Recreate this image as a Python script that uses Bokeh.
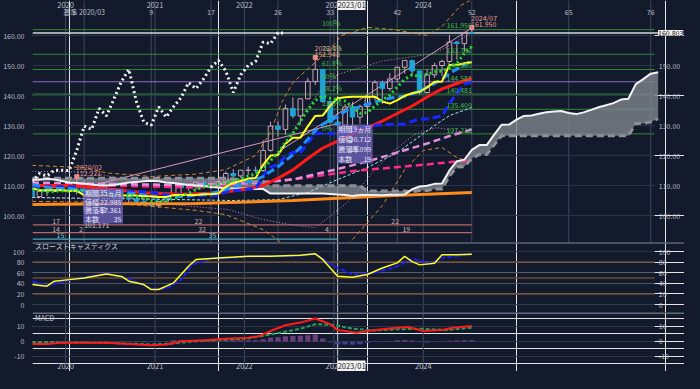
import numpy as np
from bokeh.plotting import figure
from bokeh.models import (Range1d, LinearAxis, FixedTicker, Span, Label,
                          BoxAnnotation, GlobalInlineStyleSheet)
from bokeh.layouts import column
from bokeh.core.properties import value
from bokeh.embed import file_html
from bokeh.resources import INLINE

# ---------------- data (month index: 0 = 2020/01; bars 2019/08 .. 2024/07) ----------------
months = list(range(-5, 55))
opens = [108.8, 106.3, 108.1, 108.0, 109.5, 108.7, 108.4, 107.9, 107.5, 107.2,
         107.8, 107.9, 105.9, 105.9, 105.5, 104.7, 104.3, 103.3, 104.7, 106.6,
         110.7, 109.3, 109.6, 111.1, 109.7, 110.0, 111.3, 114.0, 113.2, 115.1,
         115.1, 115.0, 121.7, 129.8, 128.7, 135.7, 133.2, 138.9, 144.7, 148.7,
         138.0, 131.1, 130.1, 136.2, 132.8, 136.3, 139.3, 144.3, 142.3, 145.5,
         149.4, 151.7, 148.2, 141.0, 146.9, 150.0, 151.35, 157.8, 157.3, 160.9]
highs = [109.3, 108.5, 109.3, 109.7, 109.7, 110.3, 112.22, 111.7, 109.4, 108.1,
         109.85, 108.2, 107.05, 106.55, 106.1, 105.7, 104.75, 104.9, 106.7, 110.97,
         110.96, 110.2, 111.1, 111.66, 110.8, 112.1, 114.7, 115.5, 115.2, 116.35,
         116.3, 125.1, 131.25, 131.35, 137.0, 139.4, 139.1, 145.9, 151.95, 148.8,
         138.2, 131.6, 137.1, 137.9, 137.0, 140.9, 145.1, 145.0, 147.4, 149.7,
         151.7, 151.9, 148.3, 148.8, 150.9, 151.97, 160.2, 157.99, 161.27, 161.95]
lows = [104.4, 105.9, 106.5, 107.9, 108.4, 107.65, 107.0, 101.17, 106.4, 105.99,
        106.1, 104.2, 104.2, 104.0, 104.0, 103.2, 102.9, 102.6, 104.4, 106.4,
        107.5, 108.3, 108.6, 109.1, 108.7, 109.1, 110.8, 112.5, 112.5, 113.5,
        114.4, 114.6, 121.3, 126.3, 126.9, 132.5, 130.4, 138.8, 143.5, 137.5,
        130.6, 127.21, 128.1, 129.6, 130.6, 133.5, 138.4, 137.2, 141.5, 144.4,
        147.3, 146.7, 140.25, 140.8, 145.9, 146.5, 150.8, 151.86, 154.55, 160.8]
closes = [106.3, 108.1, 108.0, 109.5, 108.7, 108.4, 107.9, 107.5, 107.2, 107.8,
          107.9, 105.9, 105.9, 105.5, 104.7, 104.3, 103.3, 104.7, 106.6, 110.7,
          109.3, 109.6, 111.1, 109.7, 110.0, 111.3, 114.0, 113.2, 115.1, 115.1,
          115.0, 121.7, 129.8, 128.7, 135.7, 133.2, 138.9, 144.7, 148.7, 138.0,
          131.1, 130.1, 136.2, 132.8, 136.3, 139.3, 144.3, 142.3, 145.5, 149.4,
          151.7, 148.2, 141.0, 146.9, 150.0, 151.35, 157.8, 157.3, 160.9, 160.8]

tenkan = [109.1, 108.4, 108.4, 108.4, 108.4, 108.2, 108.3, 106.7, 106.7, 106.7,
          106.7, 106.7, 106.7, 106.7, 106.7, 106.45, 106.4, 106.2, 106.2, 106.8,
          106.8, 106.8, 106.85, 107.1, 107.1, 107.35, 109.55, 110.95, 111.5, 112.3,
          112.5, 116.9, 120.0, 120.2, 123.9, 125.95, 125.95, 129.7, 133.2, 133.3,
          136.6, 139.1, 139.4, 139.6, 139.6, 139.6, 139.6, 138.0, 137.3, 138.45,
          139.9, 140.75, 141.25, 142.7, 144.55, 144.6, 150.2, 150.2, 150.76, 151.1]
kijun = [109.55, 109.55, 109.55, 109.55, 109.55, 109.5, 109.5, 107.9, 107.9, 107.9,
         107.9, 107.9, 107.9, 107.9, 107.9, 107.9, 107.6, 107.5, 106.8, 106.8,
         106.8, 106.8, 106.7, 106.7, 106.7, 106.7, 107.95, 108.35, 108.35, 108.8,
         108.8, 113.15, 116.2, 116.95, 119.8, 121.0, 121.0, 124.25, 127.3, 127.3,
         127.3, 127.3, 127.3, 128.2, 129.2, 129.7, 130.1, 130.3, 130.3, 130.3,
         130.5, 131.4, 132.2, 132.2, 132.7, 133.2, 137.4, 140.75, 143.8, 144.4]
ma6 = [108.93, 108.47, 107.9, 108.1, 108.23, 108.17, 108.43, 108.33, 108.2, 107.92,
       107.78, 107.37, 107.03, 106.7, 106.28, 105.7, 104.93, 104.73, 104.85, 105.72,
       106.48, 107.37, 108.67, 109.5, 110.07, 110.17, 110.95, 111.55, 112.22, 113.12,
       113.95, 115.68, 118.32, 120.9, 124.33, 127.35, 131.33, 135.17, 138.32, 139.87,
       139.1, 138.58, 138.13, 136.15, 134.08, 134.3, 136.5, 138.53, 140.08, 142.85,
       145.42, 146.9, 146.35, 147.12, 147.87, 148.19, 149.21, 150.73, 154.04, 156.36]
ma12 = [110.31, 109.84, 109.43, 109.1, 109.02, 108.98, 108.68, 108.4, 108.05, 108.01,
        108.01, 107.77, 107.73, 107.52, 107.24, 106.81, 106.36, 106.05, 105.94, 106.21,
        106.38, 106.53, 106.8, 107.12, 107.46, 107.94, 108.72, 109.46, 110.44, 111.31,
        112.01, 112.93, 114.63, 116.23, 118.28, 120.23, 122.64, 125.43, 128.32, 130.38,
        131.72, 132.97, 134.73, 135.66, 136.2, 137.08, 137.8, 138.56, 139.11, 139.5,
        139.75, 140.6, 141.43, 142.83, 143.98, 145.52, 147.31, 148.81, 150.2, 151.74]

# ichimoku cloud, months -5 .. 79
cloud_months = list(range(-5, 80))
senkou_a = [111.9, 111.9, 112.2, 112.0, 111.5, 111.0, 110.8, 110.6, 110.3, 110.0,
            110.0, 110.2, 110.6, 111.0, 111.2, 111.4, 111.6, 111.4, 111.0, 110.8,
            110.5, 110.2, 110.0, 109.8, 109.5,
            109.33, 108.98, 108.98, 108.98, 108.98, 108.85, 108.9, 107.3, 107.3, 107.3,
            107.3, 107.3, 107.3, 107.3, 107.3, 107.18, 107.0, 106.85, 106.5, 106.8,
            106.8, 106.8, 106.78, 106.9, 106.9, 107.03, 108.75, 109.65, 109.93, 110.55,
            110.65, 115.03, 118.1, 118.58, 121.85,
            123.48, 123.48, 126.98, 130.25, 130.3, 131.95, 133.2, 133.35, 133.9, 134.4,
            134.65, 134.85, 134.15, 133.8, 134.38, 135.2, 136.08, 136.73, 137.45, 138.63,
            138.9, 143.8, 145.48, 147.28, 147.75]
senkou_b = [112.4, 112.4, 112.4, 112.4, 112.4, 112.4, 112.4, 112.4, 112.4, 112.4,
            112.4, 112.4, 112.4, 112.4, 112.4, 112.4, 112.4, 112.4, 112.4, 112.4,
            112.4, 112.4, 112.4, 112.4, 112.4, 112.4, 112.4, 112.1, 112.1, 111.4,
            111.4, 111.4, 109.9, 109.9, 109.9, 109.9, 109.9, 109.9, 109.9, 109.9,
            109.9, 109.9, 109.9, 109.9, 109.9, 108.2, 108.2, 108.2, 108.2, 108.2,
            108.2, 107.95, 108.35, 108.35, 108.8, 108.8, 113.15, 116.2, 116.3, 119.1,
            120.3, 120.3, 123.55, 126.6, 126.6, 126.6, 126.6, 126.6, 126.6, 126.6,
            126.6, 126.6, 126.6, 126.6, 126.6, 126.6, 126.6, 126.6, 126.6, 126.6,
            126.6, 130.7, 130.7, 131.2, 132.3]

# other averages / bands (read at sample months)
red_m = [-5, 0, 5, 10, 15, 20, 24, 26, 28, 30, 32, 34, 36, 38, 40, 42, 44, 46, 48, 50, 52, 54]
red_v = [110.0, 110.0, 108.9, 107.6, 107.1, 107.5, 108.9, 110.0, 112.4, 115.2, 119.0,
         122.5, 124.8, 127.2, 129.3, 131.5, 134.0, 136.5, 139.5, 142.2, 144.0, 145.8]
lav_m = [-5, 5, 15, 25, 30, 36, 40, 44, 48, 51, 54]
lav_v = [111.0, 110.5, 110.2, 110.8, 112.0, 115.5, 118.0, 121.0, 124.0, 126.5, 128.7]
mag_m = [-5, 5, 17, 30, 38, 47, 54]
mag_v = [110.3, 110.0, 109.3, 112.0, 114.8, 116.8, 118.5]
org_m = [-5, 5, 17, 30, 42, 54]
org_v = [103.7, 103.9, 104.0, 105.0, 106.5, 107.7]
cyan_m = [-5, 10, 22, 28, 32, 36, 40, 44, 49, 51, 54]
cyan_v = [106.0, 105.5, 105.0, 105.3, 107.7, 112.0, 116.0, 121.0, 130.0, 133.3, 136.0]
bbu3_m = [-5, 2, 5, 11, 17, 21, 25, 27, 28.5, 30, 32.5, 35, 36.5, 40, 43.5, 48, 50, 52.5, 54]
bbu3_v = [116.7, 116.0, 114.2, 113.0, 113.8, 115.3, 120.0, 127.7, 137.7, 144.3, 150.0,
          155.3, 160.0, 162.7, 162.0, 160.0, 163.0, 170.0, 172.0]
bbl3_m = [-5, 3, 10, 17, 21, 26, 27.5, 31, 34, 36, 38, 42, 45, 47.5, 50, 52, 53.3, 54]
bbl3_v = [104.7, 104.5, 103.3, 101.7, 100.3, 95.3, 92.7, 86.0, 84.0, 87.0, 92.0, 103.3,
          115.3, 121.7, 122.7, 119.3, 118.3, 118.0]
bbu2_m = [-5, 2, 8, 14, 20, 24, 26, 28, 30, 32, 34, 36, 42, 49, 53, 54]
bbu2_v = [114.7, 114.5, 112.0, 111.5, 111.3, 112.0, 116.0, 121.0, 128.0, 136.0, 143.0,
          147.0, 151.5, 154.0, 159.5, 161.0]
bbl2_m = [-5, 3.6, 12, 21.3, 25.9, 30.3, 33, 37.3, 41, 43.6, 46.3, 49.3, 53.3, 54]
bbl2_v = [106.0, 105.5, 104.0, 102.0, 98.7, 96.7, 96.0, 104.3, 115.3, 121.7, 127.0,
          129.3, 127.7, 127.5]
trend1_m = [2, 36.5]
trend1_v = [109.3, 131.0]
trend2_m = [28.5, 54]
trend2_v = [122.0, 162.5]

# fibonacci retracement 2023/01 low -> 2024/07 high
fib_levels = [161.950, 153.752, 148.680, 144.581, 140.481, 135.409, 127.211]
fib_pct = ["100%", "76.4%", "61.8%", "50%", "38.2%", "23.6%", "0%"]
fib_vals = ["161.950", "153.752", "148.680", "144.581", "140.481", "135.409", "127.211"]
last_price = 160.803

# marked highs (bar index into arrays)
peak_idx = [6, 38, 59]
peak_date = ["2020/02", "2022/10", "2024/07"]
peak_text = ["112.221", "151.948", "161.950"]

# time axis labels
year_pos = [-0.5, 11.5, 23.5, 35.5, 47.5]
year_lab = ["2020", "2021", "2022", "2023", "2024"]
count_pos = [2, 11, 19, 28, 35, 44, 54, 67, 78]
count_lab = ["基準 2020/03", "9", "17", "26", "33", "42", "52", "65", "76"]
cursor_m = 36
cursor_lab = "2023/01"

# lower count rows
row_levels = [96.9, 94.3, 92.1]
row_ends = [54, 54, 36]
row_colors = ["#b8676a", "#b8676a", "#4aa9bf"]
cnt_m = [-2.3, 16.8, 43.2, -2.3, 1.3, 17.3, 34.3, 44.7, -1.7, 18.7]
cnt_row = [0, 0, 0, 1, 1, 1, 1, 1, 2, 2]
cnt_txt = ["17", "22", "22", "14", "2", "32", "4", "19", "15", "35"]

# slow stochastics
sk_m = [-5, -3, -2, 0, 2, 5, 7, 8, 10, 11, 12, 14, 16, 17, 20, 24, 27, 31, 33, 34,
        36, 38, 40, 42, 44, 45, 46, 47, 49, 50, 52, 54]
sk_v = [37.6, 34.6, 44.0, 47.0, 50.0, 57.5, 53.0, 44.0, 37.7, 28.3, 28.3, 40.9, 72.3,
        84.9, 88.0, 91.0, 91.0, 93.0, 95.6, 85.0, 53.5, 51.6, 56.6, 69.0, 78.6, 91.0,
        81.0, 74.8, 78.0, 93.7, 93.7, 95.0]
sd_m = [-5, -3, 0, 5, 8, 11, 13, 15, 16.5, 19, 24, 31, 33, 35.5, 38, 41, 44, 46, 48.5, 50, 54]
sd_v = [44.3, 36.0, 46.0, 58.8, 48.8, 29.6, 29.6, 47.0, 75.5, 86.0, 89.9, 92.5, 95.6,
        72.3, 56.6, 59.7, 72.3, 86.0, 78.6, 88.0, 95.0]

# MACD
macd_m = [-5, -3, -1, 5, 8, 11, 13, 15, 18, 21, 24, 25.5, 27, 29, 31, 33, 35, 36,
          38.5, 41, 44, 45.5, 47.5, 50, 51.5, 54]
macd_v = [-1.6, -1.6, -0.9, -0.9, -1.6, -2.5, -2.0, 0.2, 0.9, 1.8, 2.5, 3.6, 7.0, 10.8,
          12.6, 15.3, 11.5, 7.6, 5.8, 7.6, 9.2, 9.7, 7.0, 7.6, 9.2, 10.3]
sig_m = [-5, 5, 11, 14, 17, 24, 27, 31, 33, 35.5, 38, 41, 44, 47.5, 50.5, 54]
sig_v = [-0.4, -0.9, -2.0, -1.3, 0.2, 2.0, 4.7, 8.5, 11.5, 11.0, 8.5, 7.4, 8.1, 8.5, 7.6, 9.2]
hist_v = [-0.4, -0.5, -0.4, -0.3, -0.2, 0.0, 0.1, 0.1, 0.0, 0.0,
          -0.1, -0.2, -0.3, -0.4, -0.5, -0.5, -0.4, -0.3, 0.3, 0.8,
          1.0, 1.0, 1.0, 0.8, 0.6, 0.5, 0.7, 0.8, 0.9, 0.9,
          0.8, 1.5, 2.5, 2.8, 3.5, 3.6, 3.8, 4.2, 4.6, 2.0,
          -0.5, -1.8, -2.0, -2.2, -1.8, -1.0, -0.3, 0.2, 0.3, 0.8,
          1.0, 0.6, -0.3, -0.6, -0.4, 0.2, 0.5, 0.6, 0.8, 0.8]

# ---------------- style ----------------
BG = "#131a2b"
GRID = "#2b3346"
VL = "#3f485c"
TXT = "#b9bdc9"
FONT = "Noto Sans CJK JP"
UPC = "#c9a3b6"
DNC = "#22a3d6"
FIBC = "#2f8a36"
FIBT = "#44b84c"
X0, X1 = -4.933, 78.533          # plotted month span (price/indicator area)
X1_ALL = 82.533                   # every panel also covers the right label strip

xr = Range1d(X0, X1_ALL)
base = dict(width=684, x_range=xr, output_backend="svg", toolbar_location=None,
            x_axis_location=None, y_axis_location=None, background_fill_color=BG,
            border_fill_color=BG, outline_line_color=None, min_border_left=28,
            min_border_right=0, min_border_top=0, min_border_bottom=0)


def add_left_axis(fig, ticks, labels):
    ax = LinearAxis(ticker=FixedTicker(ticks=ticks), axis_line_color=None,
                    major_tick_line_color=None, minor_tick_line_color=None,
                    major_label_text_color=TXT, major_label_text_font_size="7px",
                    major_label_text_font=FONT, major_label_standoff=2,
                    major_label_overrides={t: s for t, s in zip(ticks, labels)})
    fig.add_layout(ax, "left")


def right_labels(fig, ticks, labels):
    fig.text(x=X1 + 0.55, y=ticks, text=labels, text_color=TXT, text_font_size="7px",
             text_font=value(FONT), text_align="left", text_baseline="middle")


def lab(fig, x, y, text, color, size="7px", align="left", base_="middle", bg=None):
    kw = dict(x=x, y=y, text=text, text_color=color, text_font_size=size,
              text_font=FONT, text_align=align, text_baseline=base_)
    if bg is not None:
        kw.update(background_fill_color=bg, background_fill_alpha=1.0)
    fig.add_layout(Label(**kw))


def vlines(fig):
    for v in year_pos:
        fig.add_layout(Span(location=v, dimension="height", line_color=VL,
                            line_width=1, level="underlay"))
    fig.add_layout(Span(location=cursor_m, dimension="height", line_color="#c9ccd4",
                        line_width=1, level="underlay"))


def hlines(fig, levels, colors, width=1.0, x_end=X1):
    fig.segment(x0=X0, y0=levels, x1=x_end, y1=levels, line_color=colors, line_width=width)


# ---------------- main price panel ----------------
p = figure(height=242, y_range=Range1d(91.0, 171.67), **base)
p.title.visible = False
price_ticks = [100, 110, 120, 130, 140, 150, 160]
price_labs = ["%.2f" % t for t in price_ticks]
add_left_axis(p, price_ticks, price_labs)

vlines(p)
for v in count_pos:
    p.add_layout(Span(location=v, dimension="height", line_color=VL, line_width=1,
                      level="underlay"))
hlines(p, price_ticks, GRID)
fib_cols = ["#8a6cc4" if pc == "50%" else FIBC for pc in fib_pct]
hlines(p, fib_levels, fib_cols)
hlines(p, [last_price], "#d5d7dc", width=1.5, x_end=X1 + 0.6)

# top time rows and right price labels
p.text(x=year_pos, y=170.3, text=year_lab, text_color=TXT, text_font_size="7.5px",
       text_font=value(FONT), text_align="center", text_baseline="middle")
p.text(x=count_pos, y=167.7, text=count_lab, text_color=TXT, text_font_size="7px",
       text_font=value(FONT), text_align="center", text_baseline="middle")
right_labels(p, price_ticks[:-1], price_labs[:-1])

m = np.array(months, dtype=float)
o = np.array(opens)
h = np.array(highs)
lo = np.array(lows)
c = np.array(closes)

# cloud
p.varea(x=cloud_months, y1=senkou_a, y2=senkou_b, fill_color="#80858d", fill_alpha=0.8)

# lower count rows
for lv, end, col in zip(row_levels, row_ends, row_colors):
    p.segment(x0=X0, y0=lv, x1=end, y1=lv, line_color=col, line_width=1.3)
cnt_y = [row_levels[r] + 0.3 for r in cnt_row]
cnt_col = ["#c9b3b3" if r < 2 else "#7fc6d6" for r in cnt_row]
p.text(x=cnt_m, y=cnt_y, text=cnt_txt, text_color=cnt_col, text_font_size="7px",
       text_font=value(FONT), text_baseline="bottom", text_align="left")

# thin bands
p.line(bbu3_m, bbu3_v, line_color="#d9862a", line_width=1, line_dash="4 3")
p.line(bbl3_m, bbl3_v, line_color="#d9862a", line_width=1, line_dash="4 3")
p.line(bbu2_m, bbu2_v, line_color="#cf86c8", line_width=1, line_dash="1 2")
p.line(bbl2_m, bbl2_v, line_color="#cf86c8", line_width=1, line_dash="1 2")
p.line(cyan_m, cyan_v, line_color="#a6e4ee", line_width=1, line_dash="3 2")
p.line(trend1_m, trend1_v, line_color="#d59ac0", line_width=1)
p.line(trend2_m, trend2_v, line_color="#d59ac0", line_width=1)

# candles
top = np.maximum(o, c)
bot = np.minimum(o, c)
up = c >= o
dn = ~up
p.segment(x0=m, y0=h, x1=m, y1=top, line_color=UPC, line_width=1)
p.segment(x0=m, y0=bot, x1=m, y1=lo, line_color=UPC, line_width=1)
p.vbar(x=m[up], width=0.62, top=top[up], bottom=bot[up], fill_color=None,
       line_color=UPC, line_width=1)
p.vbar(x=m[dn], width=0.62, top=top[dn], bottom=bot[dn], fill_color=DNC,
       line_color=DNC, line_width=1)

# long averages
p.line(org_m, org_v, line_color="#ff8c1a", line_width=3)
p.line(mag_m, mag_v, line_color="#ff2a8a", line_width=2.5, line_dash="7 4")
p.line(lav_m, lav_v, line_color="#e58ee0", line_width=2.5, line_dash="7 4")

# cloud spans
p.line(cloud_months, senkou_b, line_color="#8d9096", line_width=3, line_dash="7 4")
p.line(cloud_months, senkou_a, line_color="#f2f2f2", line_width=2)

# main averages
p.line(red_m, red_v, line_color="#ff1a1a", line_width=3)
p.line(months, kijun, line_color="#1428ff", line_width=3, line_dash="8 4")
p.line(months, ma12, line_color="#1e90ff", line_width=3, line_dash="8 4")
p.line(months, tenkan, line_color="#ffff1a", line_width=2)
p.line(months, ma6, line_color="#22dd33", line_width=3, line_dash="2 3")
p.line(m[25:] - 25, c[25:], line_color="#f4f4f4", line_width=3, line_dash="2 3")

# fib labels
for lv, pc, vs in zip(fib_levels, fib_pct, fib_vals):
    lab(p, 33.9, lv + 0.4, pc, FIBT, base_="bottom")
    lab(p, 54.0, lv + 0.4, vs, FIBT, align="right", base_="bottom")

# peaks
pk_m = [months[i] for i in peak_idx]
pk_h = [highs[i] + 0.7 for i in peak_idx]
p.scatter(x=pk_m, y=pk_h, marker="square", size=4, fill_color="#f08a8a",
          line_color="#f08a8a")
for x, y, d, t in zip(pk_m, pk_h, peak_date, peak_text):
    lab(p, x - 0.1, y + 3.2, d, "#e79a9a")
    lab(p, x - 0.1, y + 1.2, t, "#e79a9a")
lab(p, 2.0, 96.7, "101.171", "#c9c9de")

# info boxes
boxes = [dict(l=1.9, r=7.2, t=109.0, b=97.3,
              vals=["35ヵ月", "-22.985", "-17.361", "35"]),
         dict(l=35.9, r=40.7, t=130.3, b=117.3,
              vals=["19ヵ月", "-30.712", "-19.099", "19"])]
row_names = ["期間", "値幅", "騰落率", "本数"]
for bx in boxes:
    p.add_layout(BoxAnnotation(left=bx["l"], right=bx["r"], top=bx["t"], bottom=bx["b"],
                               fill_color="#6e64bc", fill_alpha=0.78, line_color=None))
    step = (bx["t"] - bx["b"]) / 4.0
    for k, (nm, vv) in enumerate(zip(row_names, bx["vals"])):
        yy = bx["t"] - step * (k + 0.5)
        lab(p, bx["l"] + 0.2, yy, nm, "#e6e6fa")
        lab(p, bx["r"] - 0.2, yy, vv, "#e6e6fa", align="right")

# current price tag and cursor date
lab(p, X1 + 0.45, last_price, "160.803", "#1a1a1a", bg="#ececec")
lab(p, cursor_m, 170.3, cursor_lab, "#1a1a1a", size="7.5px", bg="#f2f2f2")

# ---------------- slow stochastics ----------------
s = figure(height=70, y_range=Range1d(-15, 117), **base)
s.title.visible = False
st_ticks = [0, 20, 40, 60, 80, 100]
st_labs = [str(t) for t in st_ticks]
add_left_axis(s, st_ticks, st_labs)
right_labels(s, st_ticks, st_labs)
vlines(s)
hlines(s, st_ticks, GRID)
hlines(s, [20, 50, 80], "#6b4a2c", width=1.5)
s.add_layout(Span(location=116.3, dimension="width", line_color="#7e8698", line_width=1.5))
s.line(sd_m, sd_v, line_color="#1a1aff", line_width=2, line_dash="5 2")
s.line(sk_m, sk_v, line_color="#ffff1a", line_width=1.5)
lab(s, -4.6, 110.5, "スローストキャスティクス", "#c8ccd6")

# ---------------- MACD ----------------
q = figure(height=59, y_range=Range1d(-20.0, 19.33), **base)
q.title.visible = False
mc_ticks = [-10, 0, 10]
mc_labs = [str(t) for t in mc_ticks]
add_left_axis(q, mc_ticks, mc_labs)
right_labels(q, mc_ticks, mc_labs)
vlines(q)
hlines(q, mc_ticks, GRID)
q.add_layout(Span(location=19.0, dimension="width", line_color="#7e8698", line_width=1.5))
hv = np.array(hist_v)
q.vbar(x=m[hv >= 0], width=0.7, top=hv[hv >= 0], bottom=0, fill_color="#74438a",
       line_color=None, fill_alpha=0.9)
q.vbar(x=m[hv < 0], width=0.7, top=0, bottom=hv[hv < 0], fill_color="#44449a",
       line_color=None, fill_alpha=0.9)
q.line(sig_m, sig_v, line_color="#1fa25a", line_width=2, line_dash="4 2")
q.line(macd_m, macd_v, line_color="#ff1a1a", line_width=2)
q.text(x=year_pos, y=-16.3, text=year_lab, text_color=TXT, text_font_size="7.5px",
       text_font=value(FONT), text_align="center", text_baseline="middle")
lab(q, -4.6, 15.5, "MACD", "#c8ccd6")
lab(q, cursor_m, -16.3, cursor_lab, "#1a1a1a", size="7.5px", bg="#f2f2f2")

layout = column(p, s, q, spacing=0)
layout.stylesheets = [GlobalInlineStyleSheet(css="html, body { background-color: #131a2b; }")]

open("out.html", "w").write(file_html(layout, INLINE))
